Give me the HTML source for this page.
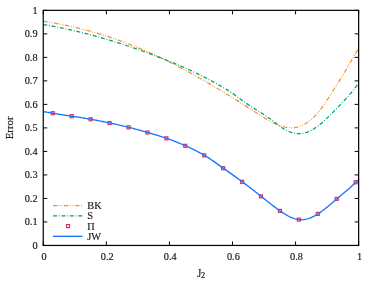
<!DOCTYPE html><html><head><meta charset="utf-8"><style>html,body{margin:0;padding:0;background:#fff}svg{display:block}</style></head><body><svg width="374" height="289" viewBox="0 0 374 289">
<rect width="374" height="289" fill="#fff"/>
<path d="M43.25,245.45h4.0M358.65,245.45h-4.0M43.25,221.94h4.0M358.65,221.94h-4.0M43.25,198.43h4.0M358.65,198.43h-4.0M43.25,174.92h4.0M358.65,174.92h-4.0M43.25,151.41h4.0M358.65,151.41h-4.0M43.25,127.90h4.0M358.65,127.90h-4.0M43.25,104.39h4.0M358.65,104.39h-4.0M43.25,80.88h4.0M358.65,80.88h-4.0M43.25,57.37h4.0M358.65,57.37h-4.0M43.25,33.86h4.0M358.65,33.86h-4.0M43.25,10.35h4.0M358.65,10.35h-4.0M43.25,245.45v-4.0M43.25,10.35v4.0M106.33,245.45v-4.0M106.33,10.35v4.0M169.41,245.45v-4.0M169.41,10.35v4.0M232.49,245.45v-4.0M232.49,10.35v4.0M295.57,245.45v-4.0M295.57,10.35v4.0M358.65,245.45v-4.0M358.65,10.35v4.0" stroke="#000" stroke-width="1.0" fill="none"/>
<path d="M43.25,21.34 L44.04,21.46 L44.83,21.57 L45.62,21.69 L46.41,21.81 L47.20,21.93 L47.99,22.05 L48.78,22.18 L49.57,22.30 L50.36,22.43 L51.15,22.56 L51.95,22.69 L52.74,22.83 L53.53,22.96 L54.32,23.10 L55.11,23.24 L55.90,23.38 L56.69,23.52 L57.48,23.67 L58.27,23.81 L59.06,23.96 L59.85,24.11 L60.64,24.26 L61.43,24.42 L62.22,24.57 L63.01,24.73 L63.80,24.89 L64.59,25.05 L65.38,25.21 L66.17,25.38 L66.96,25.54 L67.75,25.71 L68.55,25.88 L69.34,26.05 L70.13,26.22 L70.92,26.40 L71.71,26.58 L72.50,26.75 L73.29,26.93 L74.08,27.12 L74.87,27.30 L75.66,27.49 L76.45,27.67 L77.24,27.86 L78.03,28.05 L78.82,28.25 L79.61,28.44 L80.40,28.64 L81.19,28.84 L81.98,29.04 L82.77,29.24 L83.56,29.44 L84.35,29.65 L85.15,29.86 L85.94,30.06 L86.73,30.28 L87.52,30.49 L88.31,30.70 L89.10,30.92 L89.89,31.14 L90.68,31.36 L91.47,31.58 L92.26,31.80 L93.05,32.03 L93.84,32.25 L94.63,32.48 L95.42,32.71 L96.21,32.94 L97.00,33.18 L97.79,33.41 L98.58,33.65 L99.37,33.89 L100.16,34.13 L100.95,34.37 L101.75,34.62 L102.54,34.86 L103.33,35.11 L104.12,35.36 L104.91,35.61 L105.70,35.87 L106.49,36.12 L107.28,36.38 L108.07,36.64 L108.86,36.90 L109.65,37.16 L110.44,37.42 L111.23,37.69 L112.02,37.96 L112.81,38.23 L113.60,38.50 L114.39,38.77 L115.18,39.04 L115.97,39.32 L116.76,39.60 L117.55,39.88 L118.35,40.16 L119.14,40.44 L119.93,40.73 L120.72,41.01 L121.51,41.30 L122.30,41.59 L123.09,41.88 L123.88,42.18 L124.67,42.47 L125.46,42.77 L126.25,43.07 L127.04,43.37 L127.83,43.67 L128.62,43.98 L129.41,44.28 L130.20,44.59 L130.99,44.90 L131.78,45.21 L132.57,45.52 L133.36,45.84 L134.15,46.15 L134.95,46.47 L135.74,46.79 L136.53,47.11 L137.32,47.44 L138.11,47.76 L138.90,48.09 L139.69,48.42 L140.48,48.75 L141.27,49.08 L142.06,49.41 L142.85,49.75 L143.64,50.09 L144.43,50.43 L145.22,50.77 L146.01,51.11 L146.80,51.45 L147.59,51.80 L148.38,52.15 L149.17,52.49 L149.96,52.85 L150.75,53.20 L151.55,53.55 L152.34,53.91 L153.13,54.27 L153.92,54.63 L154.71,54.99 L155.50,55.35 L156.29,55.72 L157.08,56.08 L157.87,56.45 L158.66,56.82 L159.45,57.19 L160.24,57.57 L161.03,57.94 L161.82,58.32 L162.61,58.70 L163.40,59.08 L164.19,59.46 L164.98,59.84 L165.77,60.23 L166.56,60.61 L167.35,61.00 L168.15,61.39 L168.94,61.78 L169.73,62.18 L170.52,62.57 L171.31,62.97 L172.10,63.37 L172.89,63.77 L173.68,64.17 L174.47,64.57 L175.26,64.97 L176.05,65.38 L176.84,65.79 L177.63,66.20 L178.42,66.61 L179.21,67.02 L180.00,67.43 L180.79,67.85 L181.58,68.26 L182.37,68.68 L183.16,69.10 L183.95,69.52 L184.75,69.94 L185.54,70.36 L186.33,70.79 L187.12,71.21 L187.91,71.64 L188.70,72.07 L189.49,72.50 L190.28,72.93 L191.07,73.37 L191.86,73.80 L192.65,74.23 L193.44,74.67 L194.23,75.11 L195.02,75.55 L195.81,75.99 L196.60,76.43 L197.39,76.87 L198.18,77.32 L198.97,77.76 L199.76,78.21 L200.55,78.66 L201.35,79.11 L202.14,79.56 L202.93,80.01 L203.72,80.46 L204.51,80.92 L205.30,81.37 L206.09,81.83 L206.88,82.29 L207.67,82.74 L208.46,83.20 L209.25,83.66 L210.04,84.13 L210.83,84.59 L211.62,85.05 L212.41,85.52 L213.20,85.98 L213.99,86.45 L214.78,86.92 L215.57,87.39 L216.36,87.86 L217.15,88.33 L217.95,88.80 L218.74,89.27 L219.53,89.75 L220.32,90.22 L221.11,90.70 L221.90,91.18 L222.69,91.65 L223.48,92.13 L224.27,92.61 L225.06,93.09 L225.85,93.57 L226.64,94.06 L227.43,94.54 L228.22,95.02 L229.01,95.51 L229.80,95.99 L230.59,96.48 L231.38,96.97 L232.17,97.46 L232.96,97.94 L233.75,98.43 L234.55,98.93 L235.34,99.42 L236.13,99.91 L236.92,100.40 L237.71,100.90 L238.50,101.39 L239.29,101.88 L240.08,102.38 L240.87,102.88 L241.66,103.37 L242.45,103.87 L243.24,104.37 L244.03,104.87 L244.82,105.37 L245.61,105.87 L246.40,106.37 L247.19,106.87 L247.98,107.37 L248.77,107.88 L249.56,108.38 L250.35,108.88 L251.15,109.39 L251.94,109.89 L252.73,110.40 L253.52,110.91 L254.31,111.41 L255.10,111.92 L255.89,112.43 L256.68,112.94 L257.47,113.45 L258.26,113.95 L259.05,114.46 L259.84,114.96 L260.63,115.47 L261.42,115.97 L262.21,116.47 L263.00,116.96 L263.79,117.45 L264.58,117.93 L265.37,118.41 L266.16,118.89 L266.95,119.35 L267.75,119.81 L268.54,120.27 L269.33,120.71 L270.12,121.15 L270.91,121.57 L271.70,121.99 L272.49,122.40 L273.28,122.80 L274.07,123.18 L274.86,123.56 L275.65,123.92 L276.44,124.27 L277.23,124.60 L278.02,124.92 L278.81,125.23 L279.60,125.52 L280.39,125.80 L281.18,126.06 L281.97,126.31 L282.76,126.53 L283.55,126.74 L284.35,126.93 L285.14,127.11 L285.93,127.26 L286.72,127.40 L287.51,127.51 L288.30,127.60 L289.09,127.67 L289.88,127.72 L290.67,127.75 L291.46,127.76 L292.25,127.74 L293.04,127.69 L293.83,127.63 L294.62,127.53 L295.41,127.42 L296.20,127.28 L296.99,127.11 L297.78,126.92 L298.57,126.70 L299.36,126.45 L300.15,126.18 L300.95,125.89 L301.74,125.56 L302.53,125.21 L303.32,124.84 L304.11,124.44 L304.90,124.00 L305.69,123.55 L306.48,123.06 L307.27,122.55 L308.06,122.00 L308.85,121.43 L309.64,120.84 L310.43,120.21 L311.22,119.55 L312.01,118.87 L312.80,118.15 L313.59,117.41 L314.38,116.63 L315.17,115.83 L315.96,114.99 L316.75,114.13 L317.55,113.23 L318.34,112.31 L319.13,111.35 L319.92,110.36 L320.71,109.34 L321.50,108.29 L322.29,107.21 L323.08,106.10 L323.87,104.96 L324.66,103.80 L325.45,102.61 L326.24,101.41 L327.03,100.20 L327.82,98.97 L328.61,97.73 L329.40,96.48 L330.19,95.23 L330.98,93.98 L331.77,92.72 L332.56,91.47 L333.35,90.22 L334.15,88.98 L334.94,87.74 L335.73,86.51 L336.52,85.27 L337.31,84.03 L338.10,82.79 L338.89,81.55 L339.68,80.30 L340.47,79.04 L341.26,77.77 L342.05,76.49 L342.84,75.20 L343.63,73.90 L344.42,72.58 L345.21,71.25 L346.00,69.90 L346.79,68.55 L347.58,67.18 L348.37,65.81 L349.16,64.43 L349.95,63.06 L350.75,61.68 L351.54,60.30 L352.33,58.93 L353.12,57.56 L353.91,56.20 L354.70,54.86 L355.49,53.52 L356.28,52.20 L357.07,50.90 L357.86,49.61 L358.65,48.35" stroke="#F0932A" stroke-width="1.25" fill="none" stroke-dasharray="4.5 1.7 0.8 1.5 0.8 1.7"/>
<path d="M43.25,24.56 L44.04,24.69 L44.83,24.82 L45.62,24.95 L46.41,25.09 L47.20,25.22 L47.99,25.36 L48.78,25.50 L49.57,25.64 L50.36,25.78 L51.15,25.93 L51.95,26.07 L52.74,26.22 L53.53,26.37 L54.32,26.52 L55.11,26.67 L55.90,26.82 L56.69,26.97 L57.48,27.13 L58.27,27.28 L59.06,27.44 L59.85,27.60 L60.64,27.76 L61.43,27.92 L62.22,28.08 L63.01,28.25 L63.80,28.41 L64.59,28.58 L65.38,28.75 L66.17,28.92 L66.96,29.09 L67.75,29.26 L68.55,29.43 L69.34,29.61 L70.13,29.78 L70.92,29.96 L71.71,30.14 L72.50,30.32 L73.29,30.50 L74.08,30.68 L74.87,30.87 L75.66,31.05 L76.45,31.24 L77.24,31.43 L78.03,31.62 L78.82,31.81 L79.61,32.00 L80.40,32.19 L81.19,32.39 L81.98,32.58 L82.77,32.78 L83.56,32.98 L84.35,33.18 L85.15,33.38 L85.94,33.58 L86.73,33.78 L87.52,33.99 L88.31,34.19 L89.10,34.40 L89.89,34.61 L90.68,34.82 L91.47,35.03 L92.26,35.24 L93.05,35.46 L93.84,35.67 L94.63,35.89 L95.42,36.10 L96.21,36.32 L97.00,36.54 L97.79,36.76 L98.58,36.98 L99.37,37.21 L100.16,37.43 L100.95,37.65 L101.75,37.88 L102.54,38.11 L103.33,38.34 L104.12,38.57 L104.91,38.80 L105.70,39.03 L106.49,39.27 L107.28,39.50 L108.07,39.74 L108.86,39.97 L109.65,40.21 L110.44,40.45 L111.23,40.69 L112.02,40.93 L112.81,41.18 L113.60,41.42 L114.39,41.67 L115.18,41.91 L115.97,42.16 L116.76,42.41 L117.55,42.66 L118.35,42.91 L119.14,43.16 L119.93,43.41 L120.72,43.67 L121.51,43.92 L122.30,44.18 L123.09,44.44 L123.88,44.70 L124.67,44.96 L125.46,45.22 L126.25,45.48 L127.04,45.74 L127.83,46.01 L128.62,46.27 L129.41,46.54 L130.20,46.81 L130.99,47.07 L131.78,47.34 L132.57,47.61 L133.36,47.89 L134.15,48.16 L134.95,48.43 L135.74,48.71 L136.53,48.98 L137.32,49.26 L138.11,49.54 L138.90,49.82 L139.69,50.10 L140.48,50.38 L141.27,50.66 L142.06,50.94 L142.85,51.23 L143.64,51.51 L144.43,51.80 L145.22,52.09 L146.01,52.37 L146.80,52.66 L147.59,52.95 L148.38,53.24 L149.17,53.54 L149.96,53.83 L150.75,54.12 L151.55,54.42 L152.34,54.72 L153.13,55.01 L153.92,55.31 L154.71,55.61 L155.50,55.91 L156.29,56.21 L157.08,56.51 L157.87,56.82 L158.66,57.12 L159.45,57.42 L160.24,57.73 L161.03,58.04 L161.82,58.34 L162.61,58.65 L163.40,58.96 L164.19,59.27 L164.98,59.59 L165.77,59.90 L166.56,60.21 L167.35,60.53 L168.15,60.85 L168.94,61.16 L169.73,61.48 L170.52,61.80 L171.31,62.12 L172.10,62.45 L172.89,62.77 L173.68,63.10 L174.47,63.43 L175.26,63.76 L176.05,64.09 L176.84,64.42 L177.63,64.75 L178.42,65.09 L179.21,65.42 L180.00,65.76 L180.79,66.10 L181.58,66.44 L182.37,66.79 L183.16,67.13 L183.95,67.48 L184.75,67.83 L185.54,68.18 L186.33,68.53 L187.12,68.89 L187.91,69.24 L188.70,69.60 L189.49,69.96 L190.28,70.32 L191.07,70.69 L191.86,71.05 L192.65,71.42 L193.44,71.79 L194.23,72.17 L195.02,72.54 L195.81,72.92 L196.60,73.30 L197.39,73.68 L198.18,74.07 L198.97,74.45 L199.76,74.84 L200.55,75.23 L201.35,75.63 L202.14,76.02 L202.93,76.42 L203.72,76.82 L204.51,77.23 L205.30,77.63 L206.09,78.04 L206.88,78.45 L207.67,78.87 L208.46,79.29 L209.25,79.71 L210.04,80.13 L210.83,80.55 L211.62,80.98 L212.41,81.41 L213.20,81.84 L213.99,82.28 L214.78,82.72 L215.57,83.16 L216.36,83.60 L217.15,84.04 L217.95,84.48 L218.74,84.93 L219.53,85.38 L220.32,85.83 L221.11,86.28 L221.90,86.73 L222.69,87.19 L223.48,87.65 L224.27,88.12 L225.06,88.59 L225.85,89.07 L226.64,89.56 L227.43,90.06 L228.22,90.57 L229.01,91.08 L229.80,91.61 L230.59,92.14 L231.38,92.68 L232.17,93.22 L232.96,93.77 L233.75,94.32 L234.55,94.88 L235.34,95.44 L236.13,96.01 L236.92,96.57 L237.71,97.14 L238.50,97.71 L239.29,98.28 L240.08,98.85 L240.87,99.42 L241.66,99.99 L242.45,100.56 L243.24,101.12 L244.03,101.68 L244.82,102.24 L245.61,102.80 L246.40,103.35 L247.19,103.89 L247.98,104.43 L248.77,104.96 L249.56,105.48 L250.35,106.00 L251.15,106.51 L251.94,107.02 L252.73,107.53 L253.52,108.03 L254.31,108.53 L255.10,109.03 L255.89,109.53 L256.68,110.02 L257.47,110.52 L258.26,111.01 L259.05,111.51 L259.84,112.01 L260.63,112.51 L261.42,113.01 L262.21,113.51 L263.00,114.02 L263.79,114.54 L264.58,115.05 L265.37,115.58 L266.16,116.10 L266.95,116.64 L267.75,117.18 L268.54,117.73 L269.33,118.29 L270.12,118.85 L270.91,119.43 L271.70,120.01 L272.49,120.61 L273.28,121.22 L274.07,121.83 L274.86,122.44 L275.65,123.06 L276.44,123.68 L277.23,124.29 L278.02,124.90 L278.81,125.50 L279.60,126.09 L280.39,126.66 L281.18,127.22 L281.97,127.75 L282.76,128.27 L283.55,128.76 L284.35,129.24 L285.14,129.69 L285.93,130.11 L286.72,130.52 L287.51,130.90 L288.30,131.25 L289.09,131.59 L289.88,131.90 L290.67,132.18 L291.46,132.44 L292.25,132.68 L293.04,132.89 L293.83,133.08 L294.62,133.24 L295.41,133.38 L296.20,133.49 L296.99,133.57 L297.78,133.63 L298.57,133.66 L299.36,133.66 L300.15,133.64 L300.95,133.59 L301.74,133.51 L302.53,133.41 L303.32,133.28 L304.11,133.12 L304.90,132.93 L305.69,132.71 L306.48,132.46 L307.27,132.19 L308.06,131.88 L308.85,131.55 L309.64,131.20 L310.43,130.82 L311.22,130.41 L312.01,129.98 L312.80,129.52 L313.59,129.04 L314.38,128.54 L315.17,128.02 L315.96,127.48 L316.75,126.92 L317.55,126.34 L318.34,125.74 L319.13,125.13 L319.92,124.49 L320.71,123.84 L321.50,123.18 L322.29,122.50 L323.08,121.81 L323.87,121.10 L324.66,120.38 L325.45,119.65 L326.24,118.91 L327.03,118.16 L327.82,117.40 L328.61,116.63 L329.40,115.86 L330.19,115.07 L330.98,114.28 L331.77,113.48 L332.56,112.68 L333.35,111.88 L334.15,111.07 L334.94,110.26 L335.73,109.44 L336.52,108.63 L337.31,107.81 L338.10,106.99 L338.89,106.18 L339.68,105.36 L340.47,104.53 L341.26,103.71 L342.05,102.88 L342.84,102.05 L343.63,101.21 L344.42,100.36 L345.21,99.51 L346.00,98.64 L346.79,97.77 L347.58,96.89 L348.37,96.00 L349.16,95.10 L349.95,94.19 L350.75,93.27 L351.54,92.33 L352.33,91.37 L353.12,90.41 L353.91,89.42 L354.70,88.42 L355.49,87.40 L356.28,86.37 L357.07,85.31 L357.86,84.24 L358.65,83.15" stroke="#009E73" stroke-width="1.25" fill="none" stroke-dasharray="4 1.85 0.8 1.8"/>
<g transform="translate(0,0.4)">
<rect x="51.27" y="111.30" width="3.0" height="3.0" fill="none" stroke="#E0305A" stroke-width="1.2"/>
<rect x="70.19" y="114.31" width="3.0" height="3.0" fill="none" stroke="#E0305A" stroke-width="1.2"/>
<rect x="89.12" y="117.36" width="3.0" height="3.0" fill="none" stroke="#E0305A" stroke-width="1.2"/>
<rect x="108.05" y="121.11" width="3.0" height="3.0" fill="none" stroke="#E0305A" stroke-width="1.2"/>
<rect x="126.99" y="125.40" width="3.0" height="3.0" fill="none" stroke="#E0305A" stroke-width="1.2"/>
<rect x="145.91" y="130.61" width="3.0" height="3.0" fill="none" stroke="#E0305A" stroke-width="1.2"/>
<rect x="164.85" y="136.41" width="3.0" height="3.0" fill="none" stroke="#E0305A" stroke-width="1.2"/>
<rect x="183.78" y="143.91" width="3.0" height="3.0" fill="none" stroke="#E0305A" stroke-width="1.2"/>
<rect x="202.71" y="153.46" width="3.0" height="3.0" fill="none" stroke="#E0305A" stroke-width="1.2"/>
<rect x="221.64" y="166.29" width="3.0" height="3.0" fill="none" stroke="#E0305A" stroke-width="1.2"/>
<rect x="240.57" y="179.90" width="3.0" height="3.0" fill="none" stroke="#E0305A" stroke-width="1.2"/>
<rect x="259.50" y="194.49" width="3.0" height="3.0" fill="none" stroke="#E0305A" stroke-width="1.2"/>
<rect x="278.43" y="209.01" width="3.0" height="3.0" fill="none" stroke="#E0305A" stroke-width="1.2"/>
<rect x="297.36" y="217.69" width="3.0" height="3.0" fill="none" stroke="#E0305A" stroke-width="1.2"/>
<rect x="316.29" y="211.99" width="3.0" height="3.0" fill="none" stroke="#E0305A" stroke-width="1.2"/>
<rect x="335.21" y="196.93" width="3.0" height="3.0" fill="none" stroke="#E0305A" stroke-width="1.2"/>
<rect x="354.14" y="180.35" width="3.0" height="3.0" fill="none" stroke="#E0305A" stroke-width="1.2"/>
<path d="M43.50,111.30 L44.56,111.47 L45.61,111.63 L46.67,111.80 L47.72,111.97 L48.78,112.14 L49.83,112.30 L50.89,112.47 L51.94,112.64 L53.00,112.81 L54.05,112.98 L55.11,113.15 L56.16,113.31 L57.22,113.48 L58.27,113.65 L59.33,113.82 L60.38,113.99 L61.44,114.16 L62.49,114.32 L63.55,114.49 L64.60,114.66 L65.66,114.83 L66.71,114.99 L67.77,115.16 L68.82,115.33 L69.88,115.49 L70.93,115.66 L71.99,115.82 L73.05,115.98 L74.10,116.15 L75.16,116.31 L76.21,116.47 L77.27,116.64 L78.32,116.80 L79.38,116.97 L80.43,117.13 L81.49,117.30 L82.54,117.47 L83.60,117.64 L84.65,117.81 L85.71,117.98 L86.76,118.16 L87.82,118.33 L88.87,118.51 L89.93,118.70 L90.98,118.88 L92.04,119.07 L93.09,119.27 L94.15,119.46 L95.20,119.66 L96.26,119.86 L97.31,120.07 L98.37,120.27 L99.42,120.48 L100.48,120.69 L101.54,120.90 L102.59,121.12 L103.65,121.33 L104.70,121.55 L105.76,121.77 L106.81,121.99 L107.87,122.21 L108.92,122.43 L109.98,122.66 L111.03,122.88 L112.09,123.10 L113.14,123.33 L114.20,123.56 L115.25,123.78 L116.31,124.01 L117.36,124.25 L118.42,124.48 L119.47,124.72 L120.53,124.96 L121.58,125.20 L122.64,125.44 L123.69,125.69 L124.75,125.94 L125.80,126.19 L126.86,126.45 L127.91,126.71 L128.97,126.97 L130.03,127.24 L131.08,127.52 L132.14,127.79 L133.19,128.07 L134.25,128.35 L135.30,128.64 L136.36,128.93 L137.41,129.22 L138.47,129.51 L139.52,129.81 L140.58,130.10 L141.63,130.40 L142.69,130.70 L143.74,131.00 L144.80,131.30 L145.85,131.61 L146.91,131.91 L147.96,132.21 L149.02,132.51 L150.07,132.82 L151.13,133.12 L152.18,133.42 L153.24,133.73 L154.29,134.04 L155.35,134.35 L156.40,134.67 L157.46,134.98 L158.52,135.30 L159.57,135.63 L160.63,135.96 L161.68,136.29 L162.74,136.63 L163.79,136.98 L164.85,137.33 L165.90,137.68 L166.96,138.05 L168.01,138.42 L169.07,138.80 L170.12,139.18 L171.18,139.57 L172.23,139.97 L173.29,140.37 L174.34,140.78 L175.40,141.19 L176.45,141.61 L177.51,142.04 L178.56,142.47 L179.62,142.91 L180.67,143.35 L181.73,143.79 L182.78,144.24 L183.84,144.70 L184.89,145.16 L185.95,145.62 L187.01,146.09 L188.06,146.56 L189.12,147.04 L190.17,147.53 L191.23,148.02 L192.28,148.52 L193.34,149.02 L194.39,149.54 L195.45,150.06 L196.50,150.60 L197.56,151.14 L198.61,151.70 L199.67,152.26 L200.72,152.84 L201.78,153.43 L202.83,154.04 L203.89,154.65 L204.94,155.28 L206.00,155.93 L207.05,156.59 L208.11,157.26 L209.16,157.94 L210.22,158.64 L211.27,159.34 L212.33,160.05 L213.38,160.77 L214.44,161.50 L215.49,162.23 L216.55,162.97 L217.61,163.72 L218.66,164.46 L219.72,165.21 L220.77,165.96 L221.83,166.72 L222.88,167.47 L223.94,168.22 L224.99,168.97 L226.05,169.72 L227.10,170.47 L228.16,171.22 L229.21,171.97 L230.27,172.72 L231.32,173.48 L232.38,174.23 L233.43,174.98 L234.49,175.74 L235.54,176.50 L236.60,177.26 L237.65,178.02 L238.71,178.79 L239.76,179.56 L240.82,180.33 L241.87,181.11 L242.93,181.89 L243.98,182.68 L245.04,183.47 L246.10,184.26 L247.15,185.06 L248.21,185.86 L249.26,186.67 L250.32,187.48 L251.37,188.29 L252.43,189.11 L253.48,189.92 L254.54,190.75 L255.59,191.57 L256.65,192.40 L257.70,193.23 L258.76,194.06 L259.81,194.90 L260.87,195.73 L261.92,196.57 L262.98,197.41 L264.03,198.25 L265.09,199.09 L266.14,199.93 L267.20,200.77 L268.25,201.60 L269.31,202.43 L270.36,203.26 L271.42,204.08 L272.47,204.89 L273.53,205.70 L274.59,206.50 L275.64,207.29 L276.70,208.06 L277.75,208.83 L278.81,209.59 L279.86,210.33 L280.92,211.06 L281.97,211.77 L283.03,212.47 L284.08,213.15 L285.14,213.80 L286.19,214.43 L287.25,215.03 L288.30,215.60 L289.36,216.14 L290.41,216.64 L291.47,217.11 L292.52,217.54 L293.58,217.93 L294.63,218.28 L295.69,218.57 L296.74,218.83 L297.80,219.03 L298.85,219.17 L299.91,219.26 L300.96,219.30 L302.02,219.29 L303.08,219.22 L304.13,219.10 L305.19,218.93 L306.24,218.72 L307.30,218.46 L308.35,218.15 L309.41,217.80 L310.46,217.40 L311.52,216.97 L312.57,216.50 L313.63,215.98 L314.68,215.44 L315.74,214.85 L316.79,214.23 L317.85,213.58 L318.90,212.90 L319.96,212.18 L321.01,211.44 L322.07,210.68 L323.12,209.89 L324.18,209.08 L325.23,208.25 L326.29,207.41 L327.34,206.55 L328.40,205.67 L329.45,204.79 L330.51,203.90 L331.57,203.00 L332.62,202.10 L333.68,201.20 L334.73,200.29 L335.79,199.39 L336.84,198.49 L337.90,197.60 L338.95,196.72 L340.01,195.83 L341.06,194.95 L342.12,194.07 L343.17,193.19 L344.23,192.30 L345.28,191.41 L346.34,190.51 L347.39,189.61 L348.45,188.69 L349.50,187.76 L350.56,186.82 L351.61,185.87 L352.67,184.89 L353.72,183.90 L354.78,182.89 L355.83,181.86 L356.89,180.80 L357.94,179.72 L359.00,178.61" stroke="#1C74FF" stroke-width="1.35" fill="none"/>
</g>
<rect x="43.25" y="10.35" width="315.40" height="235.10" fill="none" stroke="#000" stroke-width="1.2"/>
<path d="M53.0,205.6H82.5" stroke="#F0932A" stroke-width="1.25" stroke-dasharray="4.5 1.7 0.8 1.5 0.8 1.7"/>
<path d="M53.0,215.95H82.5" stroke="#009E73" stroke-width="1.25" stroke-dasharray="4 1.85 0.8 1.8"/>
<rect x="66.50" y="224.60" width="3.0" height="3.0" fill="none" stroke="#E0305A" stroke-width="1.2"/>
<path d="M53.0,236.3H82.5" stroke="#1C74FF" stroke-width="1.35"/>
<defs><filter id="gs" x="0" y="0" width="374" height="289" filterUnits="userSpaceOnUse" color-interpolation-filters="sRGB"><feColorMatrix type="matrix" values="1 0 0 0 0 0 1 0 0 0 0 0 1 0 0 0 0 0 1 0"/></filter></defs><g filter="url(#gs)">
<text x="87.3" y="209.00" font-family="Liberation Serif, serif" font-size="10.3" fill="#1a1a1a" stroke="#1a1a1a" stroke-width="0.18">BK</text>
<text x="87.3" y="219.35" font-family="Liberation Serif, serif" font-size="10.3" fill="#1a1a1a" stroke="#1a1a1a" stroke-width="0.18">S</text>
<text x="87.3" y="229.50" font-family="Liberation Serif, serif" font-size="10.3" fill="#1a1a1a" stroke="#1a1a1a" stroke-width="0.18">Π</text>
<text x="87.3" y="239.70" font-family="Liberation Serif, serif" font-size="10.3" fill="#1a1a1a" stroke="#1a1a1a" stroke-width="0.18">JW</text>
<text x="37.6" y="248.50" font-family="Liberation Serif, serif" font-size="10.3" fill="#1a1a1a" stroke="#1a1a1a" stroke-width="0.18" text-anchor="end">0</text>
<text x="37.6" y="225.04" font-family="Liberation Serif, serif" font-size="10.3" fill="#1a1a1a" stroke="#1a1a1a" stroke-width="0.18" text-anchor="end">0.1</text>
<text x="37.6" y="201.58" font-family="Liberation Serif, serif" font-size="10.3" fill="#1a1a1a" stroke="#1a1a1a" stroke-width="0.18" text-anchor="end">0.2</text>
<text x="37.6" y="178.12" font-family="Liberation Serif, serif" font-size="10.3" fill="#1a1a1a" stroke="#1a1a1a" stroke-width="0.18" text-anchor="end">0.3</text>
<text x="37.6" y="154.66" font-family="Liberation Serif, serif" font-size="10.3" fill="#1a1a1a" stroke="#1a1a1a" stroke-width="0.18" text-anchor="end">0.4</text>
<text x="37.6" y="131.20" font-family="Liberation Serif, serif" font-size="10.3" fill="#1a1a1a" stroke="#1a1a1a" stroke-width="0.18" text-anchor="end">0.5</text>
<text x="37.6" y="107.74" font-family="Liberation Serif, serif" font-size="10.3" fill="#1a1a1a" stroke="#1a1a1a" stroke-width="0.18" text-anchor="end">0.6</text>
<text x="37.6" y="84.28" font-family="Liberation Serif, serif" font-size="10.3" fill="#1a1a1a" stroke="#1a1a1a" stroke-width="0.18" text-anchor="end">0.7</text>
<text x="37.6" y="60.82" font-family="Liberation Serif, serif" font-size="10.3" fill="#1a1a1a" stroke="#1a1a1a" stroke-width="0.18" text-anchor="end">0.8</text>
<text x="37.6" y="37.36" font-family="Liberation Serif, serif" font-size="10.3" fill="#1a1a1a" stroke="#1a1a1a" stroke-width="0.18" text-anchor="end">0.9</text>
<text x="37.6" y="13.90" font-family="Liberation Serif, serif" font-size="10.3" fill="#1a1a1a" stroke="#1a1a1a" stroke-width="0.18" text-anchor="end">1</text>
<text x="44.10" y="260.3" font-family="Liberation Serif, serif" font-size="10.3" fill="#1a1a1a" stroke="#1a1a1a" stroke-width="0.18" text-anchor="middle">0</text>
<text x="107.20" y="260.3" font-family="Liberation Serif, serif" font-size="10.3" fill="#1a1a1a" stroke="#1a1a1a" stroke-width="0.18" text-anchor="middle">0.2</text>
<text x="170.30" y="260.3" font-family="Liberation Serif, serif" font-size="10.3" fill="#1a1a1a" stroke="#1a1a1a" stroke-width="0.18" text-anchor="middle">0.4</text>
<text x="233.40" y="260.3" font-family="Liberation Serif, serif" font-size="10.3" fill="#1a1a1a" stroke="#1a1a1a" stroke-width="0.18" text-anchor="middle">0.6</text>
<text x="296.50" y="260.3" font-family="Liberation Serif, serif" font-size="10.3" fill="#1a1a1a" stroke="#1a1a1a" stroke-width="0.18" text-anchor="middle">0.8</text>
<text x="359.60" y="260.3" font-family="Liberation Serif, serif" font-size="10.3" fill="#1a1a1a" stroke="#1a1a1a" stroke-width="0.18" text-anchor="middle">1</text>
<text transform="translate(197.2,276.5) scale(1,1.27)" font-family="Liberation Serif, serif" font-size="10.3" fill="#1a1a1a" stroke="#1a1a1a" stroke-width="0.18">J</text>
<text x="201.0" y="278.0" font-family="Liberation Serif, serif" font-size="8.2" fill="#1a1a1a" stroke="#1a1a1a" stroke-width="0.18">2</text>
<text transform="translate(12.6,127.9) rotate(-90)" font-family="Liberation Serif, serif" font-size="10.8" fill="#1a1a1a" stroke="#1a1a1a" stroke-width="0.18" text-anchor="middle">Error</text>
</g>
</svg></body></html>
